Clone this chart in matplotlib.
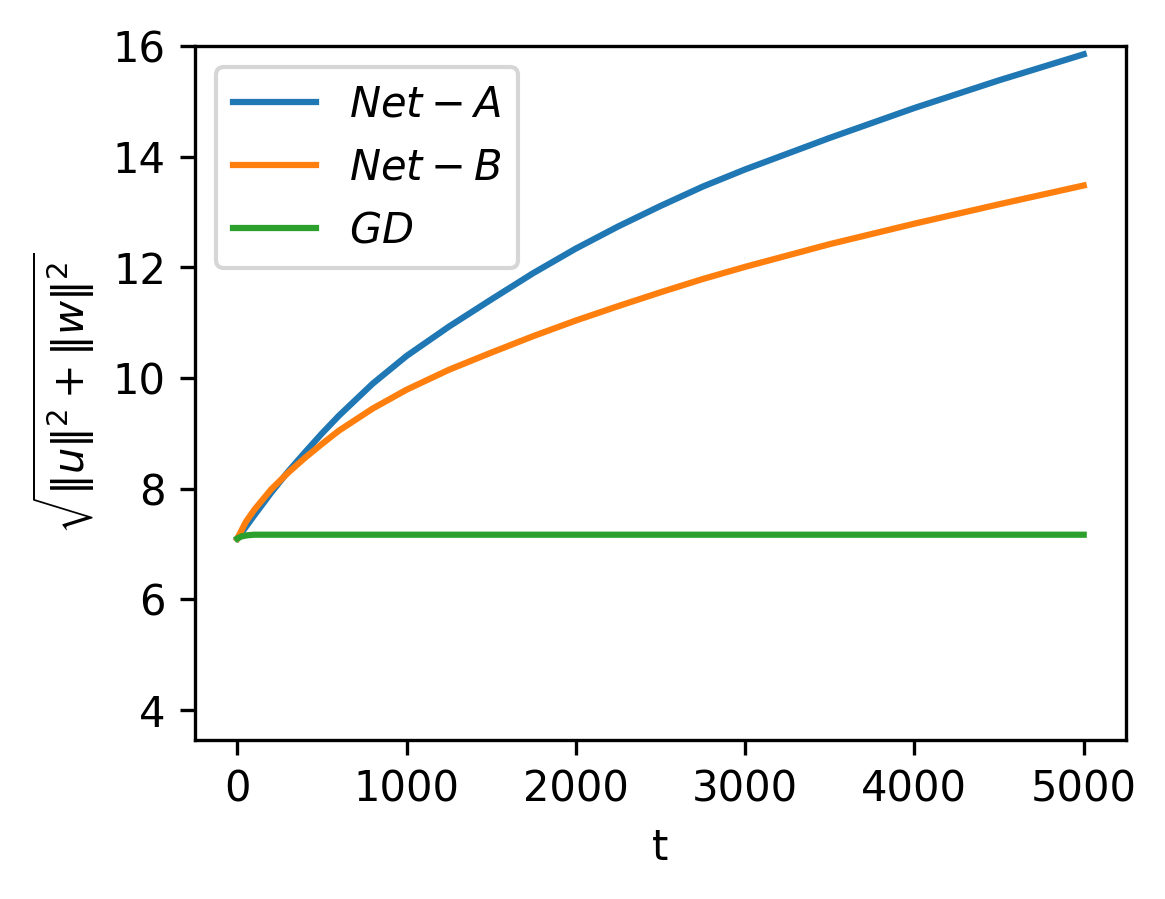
import numpy as np
import matplotlib
matplotlib.use('Agg')
import matplotlib.pyplot as plt

# valores
t = [0, 50, 100, 200, 300, 400, 500, 600, 800, 1000, 1250, 1500, 1750, 2000,
     2250, 2500, 2750, 3000, 3500, 4000, 4500, 5000]
net_a = [7.10, 7.31, 7.52, 7.93, 8.31, 8.66, 9.00, 9.32, 9.90, 10.40, 10.93, 11.42, 11.90, 12.34,
         12.74, 13.11, 13.46, 13.77, 14.34, 14.88, 15.38, 15.85]
net_b = [7.10, 7.40, 7.62, 7.99, 8.29, 8.56, 8.81, 9.05, 9.45, 9.79, 10.15, 10.46, 10.76, 11.04,
         11.30, 11.55, 11.79, 12.01, 12.42, 12.79, 13.14, 13.48]

t_gd = [0, 25, 60, 100, 5000]
gd = [7.10, 7.14, 7.16, 7.17, 7.17]

fig = plt.figure(figsize=(1165/300, 899/300), dpi=300)
ax = fig.add_axes([195/1165, 1-739.5/899, (1126-195)/1165, (739.5-46)/899])

ax.plot(t, net_a, label=r'$Net-A$')
ax.plot(t, net_b, label=r'$Net-B$')
ax.plot(t_gd, gd, label=r'$GD$')

ax.set_ylim(3.47, 16)
ax.set_xlabel('t')
ax.set_ylabel(r'$\sqrt{\|u\|^2+\|w\|^2}$')
ax.legend(loc='upper left')

fig.savefig('out.png', dpi=300)
